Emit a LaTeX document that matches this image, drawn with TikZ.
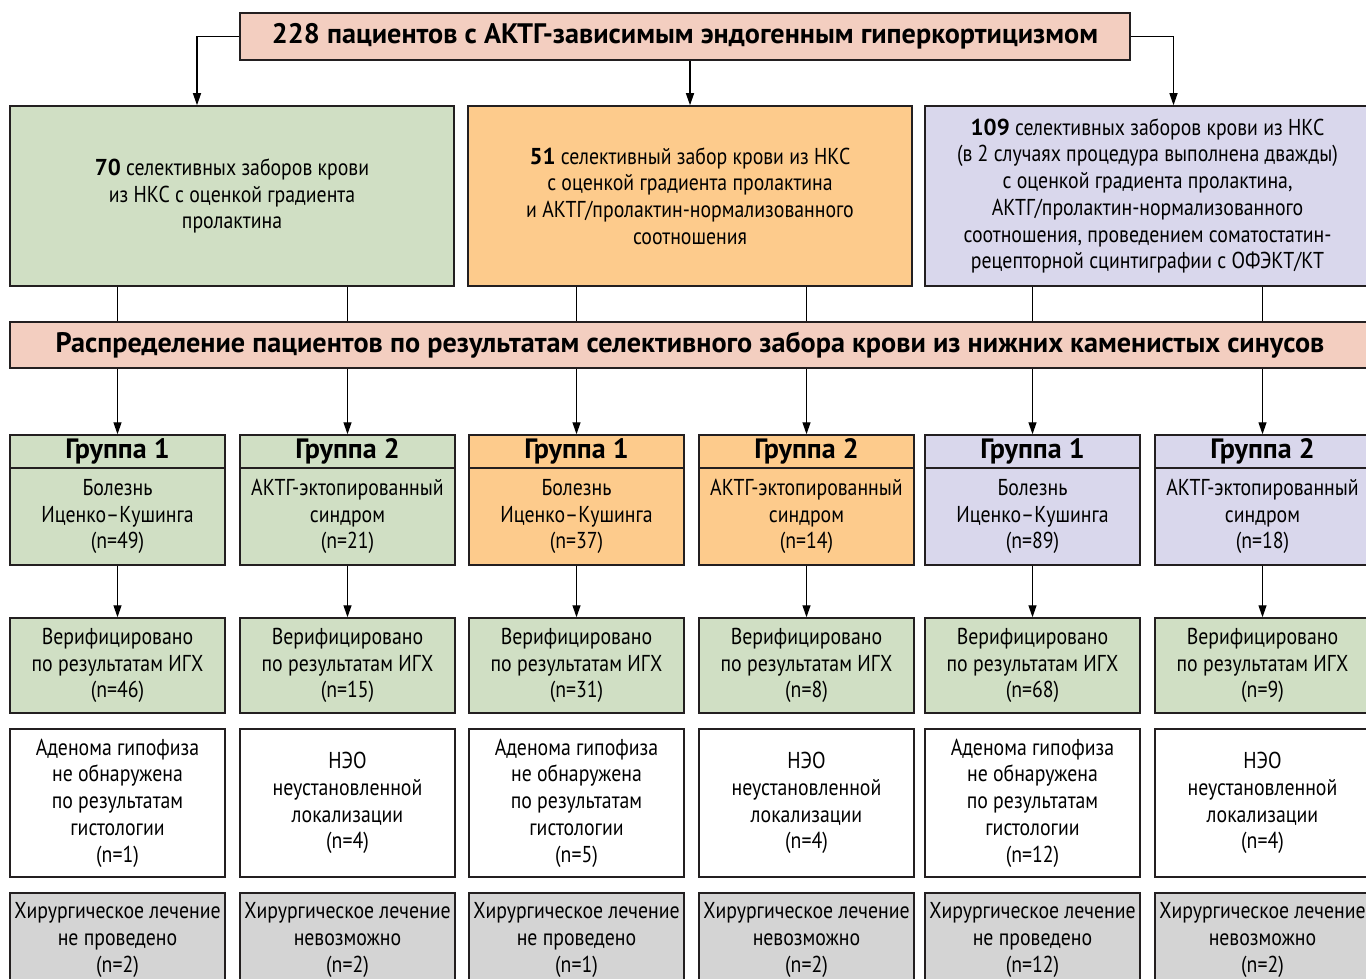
\documentclass[tikz,border=0pt]{standalone}
\usepackage{fontspec}
\setmainfont{PT Sans}[FakeStretch=0.86]
\newfontfamily\widefont{PT Sans}
\usetikzlibrary{arrows.meta}
\definecolor{cg}{HTML}{D0DFC4}
\definecolor{co}{HTML}{FDCB8C}
\definecolor{cl}{HTML}{D9D7EC}
\definecolor{cs}{HTML}{F3CEC0}
\definecolor{cgr}{HTML}{D4D4D4}
\definecolor{bord}{HTML}{231F20}
\tikzset{
  box/.style={draw=bord, line width=1.5pt, rectangle, align=center, inner sep=2pt,
    font=\fontsize{23}{26.7}\selectfont},
  colbox/.style={box, minimum width=215pt},
  hdr/.style={colbox, minimum height=33pt, font=\widefont\fontsize{28}{29}\selectfont\bfseries},
  body/.style={colbox, minimum height=97pt},
  ver/.style={colbox, fill=cg, minimum height=95pt},
  loc/.style={colbox, fill=white, minimum height=148pt},
  sur/.style={colbox, fill=cgr, minimum height=94pt},
  arr/.style={line width=1.3pt, draw=black, -{Triangle[length=12pt,width=8pt]}},
  ln/.style={line width=1.3pt, draw=black},
  ttl/.style={box, fill=cs, font=\widefont\fontsize{28.2}{30}\selectfont\bfseries},
}
\newcommand{\bn}[1]{{\widefont\bfseries #1}}
\begin{document}
\begin{tikzpicture}[x=1pt,y=-1pt]
\useasboundingbox (0,0) rectangle (1366,979);
\clip (0,0) rectangle (1366,979);

\node[ttl, minimum width=890pt, minimum height=47pt] (top) at (685,36.5)
  {228 пациентов с АКТГ-зависимым эндогенным гиперкортицизмом};

\node[box, fill=cg, minimum width=444pt, minimum height=180pt] (a) at (232,196)
  {\bn{70} селективных заборов крови\\из НКС с оценкой градиента\\пролактина};
\node[box, fill=co, minimum width=444pt, minimum height=180pt] (b) at (690,196)
  {\bn{51} селективный забор крови из НКС\\с оценкой градиента пролактина\\и АКТГ/пролактин-нормализованного\\соотношения};
\node[box, fill=cl, minimum width=445pt, minimum height=180pt] (c) at (1147.5,196)
  {\bn{109} селективных заборов крови из НКС\\(в 2 случаях процедура выполнена дважды)\\с оценкой градиента пролактина,\\АКТГ/пролактин-нормализованного\\соотношения, проведением соматостатин-\\рецепторной сцинтиграфии с ОФЭКТ/КТ};

\node[ttl, minimum width=1360pt, minimum height=46pt] (dist) at (690,345)
  {Распределение пациентов по результатам селективного забора крови из нижних каменистых синусов};

\draw[arr] (top.west) -| ([xshift=-35pt]a.north);
\draw[arr] (b.north |- top.south) -- (b.north);
\draw[arr] (top.east) -| ([xshift=26pt]c.north);

\foreach \i/\x/\c/\src/\g/\dt/\vn/\lt/\st in {
  1/117.5/cg/a/1/{Болезнь\\Иценко–Кушинга\\(n=49)}/46/{Аденома гипофиза\\не обнаружена\\по результатам\\гистологии\\(n=1)}/{не проведено\\(n=2)},
  2/347.5/cg/a/2/{АКТГ-эктопированный\\синдром\\(n=21)}/15/{НЭО\\неустановленной\\локализации\\(n=4)}/{невозможно\\(n=2)},
  3/576.5/co/b/1/{Болезнь\\Иценко–Кушинга\\(n=37)}/31/{Аденома гипофиза\\не обнаружена\\по результатам\\гистологии\\(n=5)}/{не проведено\\(n=1)},
  4/806.5/co/b/2/{АКТГ-эктопированный\\синдром\\(n=14)}/8/{НЭО\\неустановленной\\локализации\\(n=4)}/{невозможно\\(n=2)},
  5/1032.5/cl/c/1/{Болезнь\\Иценко–Кушинга\\(n=89)}/68/{Аденома гипофиза\\не обнаружена\\по результатам\\гистологии\\(n=12)}/{не проведено\\(n=12)},
  6/1262.5/cl/c/2/{АКТГ-эктопированный\\синдром\\(n=18)}/9/{НЭО\\неустановленной\\локализации\\(n=4)}/{невозможно\\(n=2)}}
{
  \node[hdr, fill=\c] (h\i) at (\x,451.5) {Группа \g};
  \node[body, fill=\c] (d\i) at (\x,516.5) {\dt};
  \node[ver] (v\i) at (\x,665.5) {Верифицировано\\по результатам ИГХ\\(n=\vn)};
  \node[loc] (l\i) at (\x,803) {\lt};
  \node[sur] (s\i) at (\x,940) {Хирургическое лечение\\\st};
  \draw[ln] (\src.south -| h\i.north) -- (dist.north -| h\i.north);
  \draw[arr] (dist.south -| h\i.north) -- (h\i.north);
  \draw[arr] (d\i.south) -- (v\i.north);
}
\end{tikzpicture}
\end{document}
